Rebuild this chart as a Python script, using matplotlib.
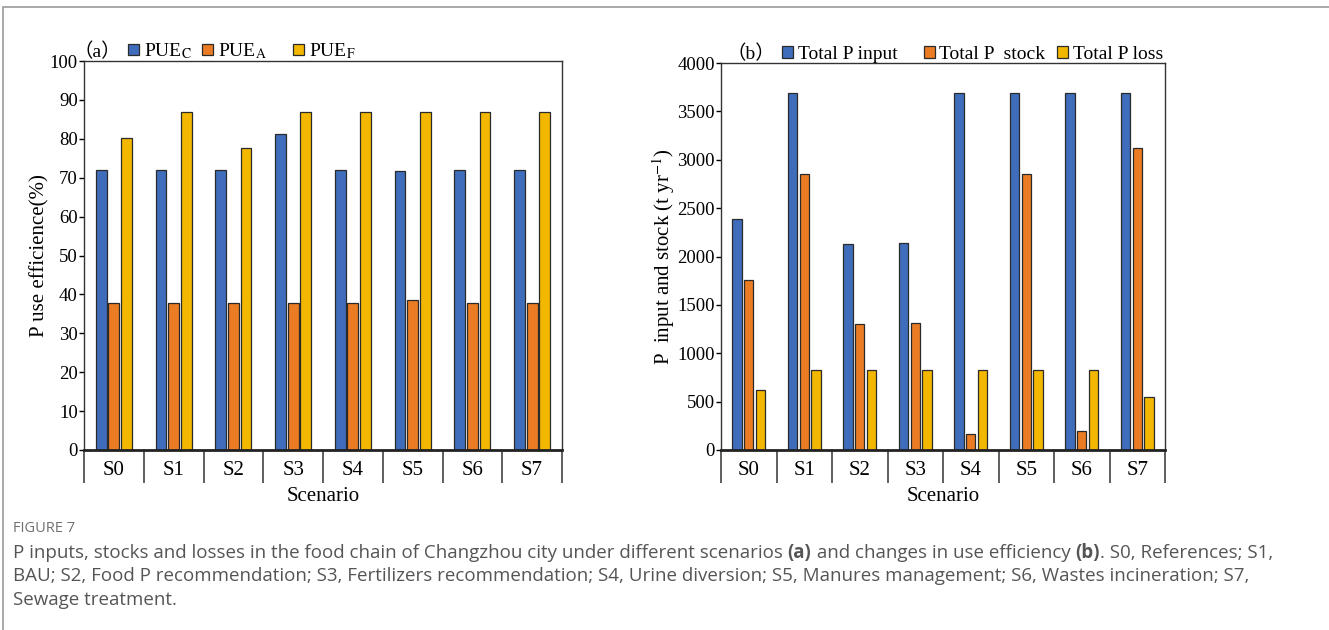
import numpy as np
import matplotlib
matplotlib.use("Agg")
from matplotlib import pyplot as plt
from matplotlib.patches import Patch, Rectangle

plt.rcParams["font.family"] = ["Liberation Serif", "Noto Sans CJK SC"]
plt.rcParams["mathtext.fontset"] = "stix"

scenarios = ["S0", "S1", "S2", "S3", "S4", "S5", "S6", "S7"]

# panel (a): P use efficiency (%)
pue_c = [72.0, 72.0, 72.0, 81.2, 72.0, 71.8, 72.0, 72.0]
pue_a = [37.7, 37.7, 37.7, 37.7, 37.7, 38.6, 37.7, 37.7]
pue_f = [80.1, 87.0, 77.7, 86.8, 87.0, 87.0, 87.0, 87.0]
labels_a = [r"PUE$_{\mathrm{C}}$", r"PUE$_{\mathrm{A}}$    ", r"PUE$_{\mathrm{F}}$"]

# panel (b): P input / stock / loss (t/yr)
p_input = [2390, 3690, 2130, 2140, 3690, 3690, 3690, 3690]
p_stock = [1760, 2850, 1300, 1310, 165, 2850, 195, 3120]
p_loss = [625, 825, 825, 825, 825, 825, 825, 550]
labels_b = ["Total P input   ", "Total P  stock", "Total P loss"]

colors = ["#3F6DBB", "#EC7C23", "#F3B700"]
W, H = 1329, 630
fig = plt.figure(figsize=(W / 100, H / 100), dpi=100)

# outer frame of the figure panel
fig.patches.append(Rectangle((3 / W, -0.1), 1.1, 1 - 7 / H + 0.1, transform=fig.transFigure,
                             fill=False, ec="#9a9a9a", lw=1.2))

ax1 = fig.add_axes([84 / W, 1 - 450 / H, 478 / W, 389 / H])
ax2 = fig.add_axes([721 / W, 1 - 450 / H, 444 / W, 387 / H])


def bars(ax, series, offsets, width, labels):
    x = np.arange(len(scenarios))
    handles = []
    for vals, off, c, lab in zip(series, offsets, colors, labels):
        ax.bar(x + off, vals, width, color=c, edgecolor="#2a2a2a", lw=0.9, label=lab)
        handles.append(Patch(fc=c, ec="#2a2a2a", lw=0.9))
    ax.set_xlim(-0.5, len(scenarios) - 0.5)
    ax.set_xticks(x)
    ax.set_xticklabels(scenarios, fontsize=15)
    ax.set_xticks(np.arange(len(scenarios) + 1) - 0.5, minor=True)
    ax.tick_params(axis="x", which="major", length=0, pad=8)
    ax.tick_params(axis="x", which="minor", length=24, width=1.1, color="#333")
    ax.tick_params(axis="y", direction="out", length=3.5, width=1, labelsize=13.5, pad=1)
    ax.set_xlabel("Scenario", fontsize=15, labelpad=-1)
    for s in ["top", "right", "left"]:
        ax.spines[s].set_linewidth(1.0)
        ax.spines[s].set_color("#333")
    ax.spines["bottom"].set_linewidth(2.0)
    ax.spines["bottom"].set_color("#222")
    return handles


leg_kw = dict(ncol=3, loc="lower left", frameon=False, fontsize=14, handlelength=0.55,
              handleheight=0.55, handletextpad=0.25, borderpad=0, borderaxespad=0)

h1 = bars(ax1, [pue_c, pue_a, pue_f], [-0.21, 0.0, 0.21], 0.18, labels_a)
ax1.set_ylim(0, 100)
ax1.set_yticks(np.arange(0, 101, 10))
ax1.set_ylabel("P use efficience(%)", fontsize=15, labelpad=0)
ax1.text(-0.022, 1.0, "（a）", transform=ax1.transAxes, fontsize=14, va="bottom", ha="left")
ax1.legend(h1, labels_a, bbox_to_anchor=(0.093, 1.0), columnspacing=0.55, **leg_kw)

h2 = bars(ax2, [p_input, p_stock, p_loss], [-0.21, 0.0, 0.21], 0.17, labels_b)
ax2.set_ylim(0, 4000)
ax2.set_yticks(np.arange(0, 4001, 500))
ax2.set_ylabel(r"P  input and stock (t yr$^{-1}$)", fontsize=15, labelpad=0)
ax2.text(0.012, 1.0, "（b）", transform=ax2.transAxes, fontsize=14, va="bottom", ha="left")
ax2.legend(h2, labels_b, bbox_to_anchor=(0.138, 1.0), columnspacing=0.6, **leg_kw)

# caption
fig.text(13 / W, 1 - 529 / H, "FIGURE 7", fontsize=10.5, color="#707070", va="center",
         family=["Open Sans"])

caption = [
    [("P inputs, stocks and losses in the food chain of Changzhou city under different scenarios ", "normal"),
     ("(a)", "bold"), (" and changes in use efficiency ", "normal"), ("(b)", "bold"),
     (". S0, References; S1,", "normal")],
    [("BAU; S2, Food P recommendation; S3, Fertilizers recommendation; S4, Urine diversion; "
      "S5, Manures management; S6, Wastes incineration; S7,", "normal")],
    [("Sewage treatment.", "normal")],
]
renderer = fig.canvas.get_renderer()
for i, line in enumerate(caption):
    x = 13 / W
    y = 1 - (553 + 23.3 * i) / H
    for txt, wt in line:
        t = fig.text(x, y, txt, fontsize=13.5, color="#555555", weight=wt, va="center",
                     family=["Open Sans"])
        bb = t.get_window_extent(renderer)
        x = bb.x1 / W

fig.savefig("out.png", dpi=100)
